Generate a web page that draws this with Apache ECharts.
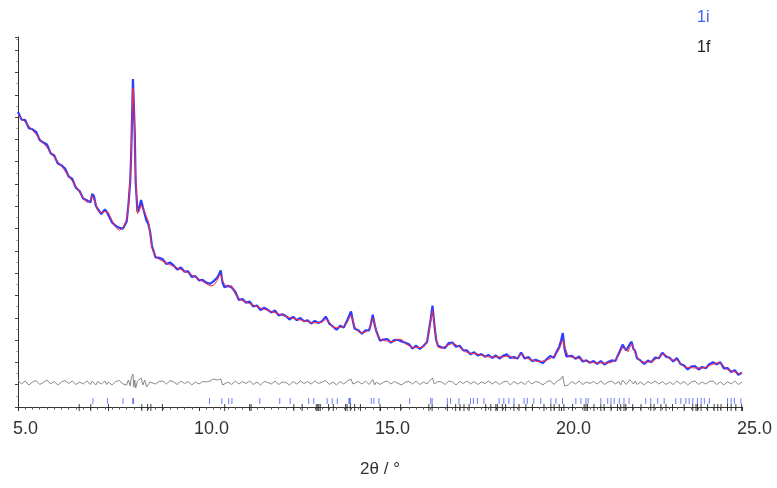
<!DOCTYPE html>
<html>
<head>
<meta charset="utf-8">
<script src="https://cdn.jsdelivr.net/npm/echarts@6/dist/echarts.min.js"></script>
<style>
  html, body { margin: 0; padding: 0; background: #fff; }
  #chart { width: 777px; height: 488px; }
</style>
</head>
<body>
<div id="chart"></div>
<script>
// 2theta positions (deg) of the profile points
var twoTheta = [
  5.0, 5.1, 5.2, 5.3, 5.4, 5.5, 5.6, 5.7, 5.8, 5.9,
  6.0, 6.1, 6.2, 6.3, 6.4, 6.5, 6.6, 6.7, 6.8, 6.9,
  7.0, 7.05, 7.1, 7.15, 7.2, 7.3, 7.4, 7.45, 7.5, 7.6, 7.7, 7.8, 7.9,
  8.0, 8.05, 8.1, 8.125, 8.15, 8.175, 8.2, 8.225, 8.25, 8.3, 8.35, 8.4, 8.45, 8.5, 8.55, 8.6, 8.65, 8.7, 8.8, 8.9,
  9.0, 9.1, 9.2, 9.3, 9.4, 9.5, 9.6, 9.7, 9.8, 9.9,
  10.0, 10.1, 10.2, 10.3, 10.4, 10.45, 10.5, 10.55, 10.6, 10.65, 10.7, 10.8, 10.9,
  11.0, 11.1, 11.2, 11.3, 11.4, 11.5, 11.6, 11.7, 11.8, 11.9,
  12.0, 12.1, 12.2, 12.3, 12.4, 12.5, 12.6, 12.7, 12.8, 12.9,
  13.0, 13.1, 13.2, 13.3, 13.4, 13.5, 13.6, 13.7, 13.8, 13.9,
  14.0, 14.1, 14.15, 14.2, 14.25, 14.3, 14.4, 14.5, 14.6, 14.7, 14.75, 14.8, 14.85, 14.9,
  15.0, 15.1, 15.2, 15.3, 15.4, 15.5, 15.6, 15.7, 15.8, 15.9,
  16.0, 16.1, 16.2, 16.3, 16.35, 16.4, 16.45, 16.5, 16.55, 16.6, 16.7, 16.8, 16.9,
  17.0, 17.1, 17.2, 17.3, 17.4, 17.5, 17.6, 17.7, 17.8, 17.9,
  18.0, 18.1, 18.2, 18.3, 18.4, 18.5, 18.6, 18.7, 18.8, 18.9,
  19.0, 19.1, 19.2, 19.3, 19.4, 19.5, 19.6, 19.7, 19.8, 19.9, 19.95,
  20.0, 20.05, 20.1, 20.15, 20.2, 20.3, 20.4, 20.5, 20.6, 20.7, 20.8, 20.9,
  21.0, 21.1, 21.2, 21.3, 21.4, 21.5, 21.6, 21.65, 21.7, 21.75, 21.8, 21.85, 21.9, 21.95,
  22.0, 22.05, 22.1, 22.2, 22.3, 22.4, 22.5, 22.6, 22.7, 22.8, 22.9,
  23.0, 23.1, 23.2, 23.3, 23.4, 23.5, 23.6, 23.7, 23.8, 23.9,
  24.0, 24.1, 24.2, 24.3, 24.4, 24.5, 24.6, 24.7, 24.8, 24.9,
  25.0
];

// calculated profile (red)
var yCalc = [
  2920, 2884, 2848, 2808, 2767, 2727, 2684, 2640, 2595, 2548,
  2500, 2454, 2407, 2360, 2310, 2260, 2207, 2149, 2095, 2047,
  2061, 2110, 2095, 2035, 1966, 1940, 1955, 1967, 1942, 1865, 1796, 1766, 1794,
  1872, 1990, 2290, 2470, 2870, 3190, 3060, 2705, 2300, 1934, 1958, 2020, 2018, 1949, 1902, 1860, 1740, 1590, 1506, 1477,
  1457, 1439, 1421, 1406, 1390, 1375, 1358, 1341, 1321, 1299,
  1277, 1256, 1234, 1212, 1216, 1220, 1262, 1305, 1326, 1264, 1228, 1201, 1213,
  1132, 1082, 1064, 1049, 1034, 1020, 1005, 990, 978, 967,
  956, 944, 931, 918, 905, 895, 887, 878, 870, 862,
  853, 845, 841, 845, 849, 879, 849, 795, 793, 797,
  805, 850, 886, 915, 871, 802, 753, 742, 747, 782, 823, 887, 848, 746,
  679, 665, 660, 654, 655, 676, 676, 632, 613, 595,
  593, 596, 600, 661, 748, 856, 964, 842, 692, 598, 587, 606, 620,
  635, 623, 597, 571, 546, 537, 533, 530, 519, 508,
  500, 500, 500, 500, 502, 506, 510, 484, 495, 535,
  499, 481, 469, 457, 453, 460, 468, 485, 507, 548, 580,
  622, 670, 610, 556, 512, 497, 493, 485, 470, 456, 448, 444,
  441, 440, 440, 440, 446, 470, 522, 558, 594, 611, 580, 552, 593, 633,
  592, 538, 503, 453, 450, 450, 453, 475, 497, 527, 519,
  483, 470, 470, 440, 400, 396, 393, 390, 390, 390,
  398, 414, 428, 441, 438, 406, 374, 360, 349, 338,
  334
];

// difference obs - calc (grey trace)
var yDiff = [
  30, -10, 20, -20, 10, 25, -15, 5, 30, -10,
  15, -20, 10, 25, -5, 20, -15, 10, -10, 20,
  -15, 20, 10, -20, 15, -10, 20, -15, 10, -20, 15, 25, -10,
  -20, 30, -30, 40, 20, 90, -40, 30, -50, 20, 40, 50, -20, 30, -40, -30, 10, 20, -10, 15,
  20, -10, 25, 10, -15, 20, -5, 15, -20, 10,
  -10, 15, 10, 20, 40, 50, 30, 20, 40, -20, -30, 10, -15,
  20, -10, 15, -5, 20, -15, 10, -20, 15, 5,
  -10, 20, -15, 10, 5, -20, 15, -10, 20, -5,
  15, -10, 20, -5, 10, 25, -15, 10, -20, 15,
  -10, 20, 30, 40, -10, -20, 15, -10, 20, -15, 10, 35, -20, 10,
  -15, 10, 20, -10, 15, -5, -20, 10, 15, -10,
  20, -15, 10, -10, 15, 20, 50, -10, -20, 15, 10, -15, 20,
  10, -20, 15, -5, 20, -10, 15, -15, 10, -5,
  20, -10, 15, -15, 10, 20, -20, 15, -10, 10,
  -15, 20, -10, 15, 5, -20, 10, 25, -15, 20, 20,
  40, 70, -30, -50, -20, 15, -10, 20, -15, 10, -5, 15,
  -10, 20, -15, 10, 20, -10, 15, -20, 30, 20, -15, 10, 35, 20,
  -10, 20, -15, 10, -20, 15, -5, 20, -10, 15, -15,
  10, -15, 20, -10, 15, -20, 10, 20, -15, 10,
  -10, 15, 20, -15, 10, -20, 15, -10, 20, -15,
  10
];

// reflection positions
var ticks1i = [
  7.07, 7.47, 7.90, 8.17, 8.19, 10.29, 10.63, 10.82, 10.91, 11.68,
  12.23, 12.52, 13.03, 13.17, 13.54, 13.68, 13.82, 14.14, 14.16, 14.18,
  14.76, 14.83, 14.97, 15.82, 16.40, 16.44, 16.86, 16.95, 17.18, 17.50,
  17.58, 17.69, 17.87, 18.29, 18.42, 18.56, 18.70, 18.98, 19.07, 19.25,
  19.44, 19.72, 19.86, 20.04, 20.41, 20.55, 20.69, 20.75, 21.10, 21.29,
  21.38, 21.47, 21.61, 21.74, 21.88, 22.34, 22.48, 22.67, 22.85, 23.17,
  23.31, 23.45, 23.54, 23.64, 23.77, 23.87, 23.96, 24.10, 24.60, 24.70,
  24.79, 24.97
];
var ticks1f = [
  6.69, 7.01, 7.50, 8.42, 8.58, 8.67, 8.99, 10.71, 11.40, 11.44,
  12.62, 12.85, 13.24, 13.28, 13.31, 13.35, 13.58, 13.71, 14.05, 14.09,
  14.18, 14.30, 14.46, 15.00, 15.57, 16.35, 16.44, 16.86, 17.09, 17.21,
  17.32, 17.46, 17.92, 18.06, 18.20, 18.24, 18.38, 18.47, 18.70, 18.84,
  19.03, 19.21, 19.53, 19.72, 19.81, 19.95, 20.08, 20.32, 20.64, 20.69,
  20.73, 20.91, 21.10, 21.19, 21.38, 21.56, 21.65, 21.74, 21.79, 21.98,
  22.21, 22.48, 22.57, 22.76, 22.90, 23.08, 23.40, 23.64, 23.73, 23.77,
  23.87, 24.05, 24.23, 24.33, 24.42, 24.60, 24.70, 24.83, 24.99
];

var diffOffset = 240;
var tickLevel1i = 60;
var tickLevel1f = -5;

var obsData = [], calcData = [], diffData = [];
for (var i = 0; i < twoTheta.length; i++) {
  calcData.push([twoTheta[i], yCalc[i]]);
  obsData.push([twoTheta[i], yCalc[i] + yDiff[i]]);
  diffData.push([twoTheta[i], yDiff[i] + diffOffset]);
}
var t1i = ticks1i.map(function(t) { return [t, tickLevel1i]; });
var t1f = ticks1f.map(function(t) { return [t, tickLevel1f]; });

var chart = echarts.init(document.getElementById('chart'), null, { renderer: 'canvas' });
chart.setOption({
  animation: false,
  grid: { left: 18, right: 35, top: 37, bottom: 81 },
  xAxis: {
    type: 'value',
    min: 5, max: 25, interval: 5,
    name: '2θ / °',
    nameLocation: 'middle',
    nameGap: 54,
    nameTextStyle: { color: '#333', fontSize: 17, fontFamily: 'Liberation Sans' },
    axisLine: { lineStyle: { color: '#333', width: 1 } },
    axisTick: { length: 4, lineStyle: { color: '#333' } },
    minorTick: { show: true, splitNumber: 25, length: 2.5, lineStyle: { color: '#555' } },
    splitLine: { show: false },
    axisLabel: {
      color: '#333', fontSize: 18, fontFamily: 'Liberation Sans',
      margin: 13, align: 'left', padding: [0, 0, 0, -5],
      formatter: function(v) { return v.toFixed(1); }
    }
  },
  yAxis: {
    type: 'value',
    min: 0, max: 3700, interval: 223,
    axisLine: { show: true, lineStyle: { color: '#333', width: 1 } },
    axisTick: { show: true, length: 3, lineStyle: { color: '#444' } },
    minorTick: { show: true, splitNumber: 2, length: 2, lineStyle: { color: '#aaa' } },
    axisLabel: { show: false },
    splitLine: { show: false }
  },
  graphic: [
    { type: 'text', left: 697, top: 10, style: { text: '1i', fill: '#4060f5', fontSize: 16, fontFamily: 'Liberation Sans' } },
    { type: 'text', left: 697, top: 40, style: { text: '1f', fill: '#222', fontSize: 16, fontFamily: 'Liberation Sans' } }
  ],
  series: [
    {
      name: 'diff', type: 'line', data: diffData, showSymbol: false, silent: true,
      lineStyle: { color: '#888', width: 1 }
    },
    {
      name: 'obs', type: 'line', data: obsData, showSymbol: false, silent: true,
      lineStyle: { color: '#2b3dff', width: 2.2 }
    },
    {
      name: 'calc', type: 'line', data: calcData, showSymbol: false, silent: true,
      lineStyle: { color: '#ff2a40', width: 1 }
    },
    {
      name: '1i', type: 'scatter', data: t1i, symbol: 'rect', symbolSize: [1, 6],
      clip: false, silent: true, itemStyle: { color: '#4a60f0' }, z: 5
    },
    {
      name: '1f', type: 'scatter', data: t1f, symbol: 'rect', symbolSize: [1, 7],
      clip: false, silent: true, itemStyle: { color: '#111' }, z: 5
    }
  ]
});
window.addEventListener('resize', function() { chart.resize(); });
</script>
</body>
</html>
